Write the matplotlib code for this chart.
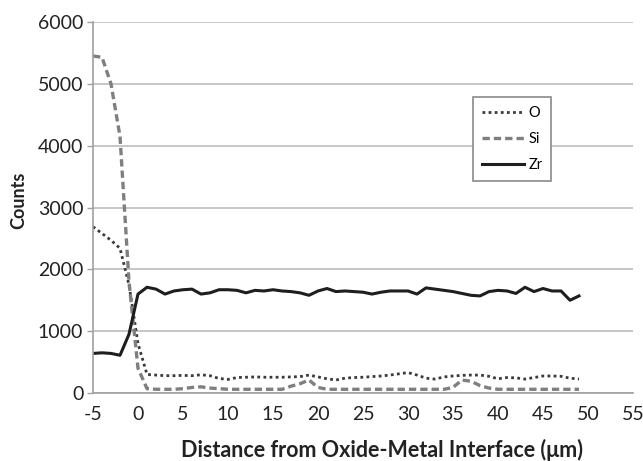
import numpy as np
import matplotlib
matplotlib.use('Agg')
import matplotlib.pyplot as plt

plt.rcParams['font.family'] = ['Lato', 'DejaVu Sans']
plt.rcParams['axes.unicode_minus'] = False

# distance from the oxide-metal interface, um
distance = list(range(-5, 50))

oxygen = [2690, 2580, 2470, 2340, 1750, 800, 300, 290, 280, 280,
          285, 280, 295, 280, 235, 220, 250, 255, 260, 255,
          255, 255, 260, 265, 290, 260, 230, 210, 240, 250,
          255, 265, 275, 290, 310, 330, 290, 240, 225, 260,
          275, 285, 290, 290, 270, 230, 250, 245, 225, 250,
          275, 275, 270, 240, 225]

silicon = [5450, 5430, 5000, 4150, 1800, 400, 70, 60, 60, 60,
           70, 90, 100, 80, 70, 60, 60, 60, 60, 60,
           60, 60, 110, 150, 210, 90, 60, 60, 60, 60,
           60, 60, 60, 60, 60, 60, 60, 60, 60, 60,
           90, 210, 190, 120, 80, 60, 60, 60, 60, 60,
           60, 60, 60, 60, 60]

zirconium = [640, 650, 640, 610, 950, 1600, 1710, 1680, 1600, 1650,
             1670, 1680, 1600, 1620, 1670, 1670, 1660, 1620, 1660, 1650,
             1670, 1650, 1640, 1620, 1580, 1650, 1690, 1640, 1650, 1640,
             1630, 1600, 1630, 1650, 1650, 1650, 1600, 1700, 1680, 1660,
             1640, 1610, 1580, 1570, 1640, 1660, 1650, 1610, 1710, 1640,
             1690, 1650, 1650, 1500, 1570]

x_ticks = list(range(-5, 60, 5))
y_ticks = list(range(0, 7000, 1000))

fig = plt.figure(figsize=(6.43, 4.61), dpi=100)
ax = fig.add_axes([93 / 643, 68 / 461, 540 / 643, 371 / 461])

ax.plot(distance, oxygen, linestyle=(0, (1, 1.2)), color='#3a3a3a', lw=2.0, label='O')
ax.plot(distance, silicon, linestyle=(0, (2.2, 1.2)), color='#7f7f7f', lw=2.4, label='Si')
ax.plot(distance, zirconium, linestyle='-', color='#1e1e1e', lw=2.2, label='Zr')

ax.set_xlim(-5, 55)
ax.set_ylim(0, 6000)
ax.set_xticks(x_ticks)
ax.set_yticks(y_ticks)
ax.tick_params(axis='both', labelsize=14, colors='#222222', length=4, width=1)
ax.tick_params(axis='x', length=0, pad=9)
ax.tick_params(axis='y', color='#a0a0a0', pad=3)
ax.yaxis.grid(True, color='#bcbcbc', lw=1.2)
ax.set_axisbelow(True)
for side in ['top', 'right']:
    ax.spines[side].set_visible(False)
for side in ['left', 'bottom']:
    ax.spines[side].set_color('#a0a0a0')
    ax.spines[side].set_linewidth(1.2)

ax.set_xlabel('Distance from Oxide-Metal Interface (\u03bcm)', fontsize=15.5,
              fontweight='bold', color='#222222')
ax.xaxis.set_label_coords(0.535, -0.125)
ax.set_ylabel('Counts', fontsize=13, fontweight='bold', color='#222222')
ax.yaxis.set_label_coords(-0.122, 0.52)

leg = ax.legend(loc='upper left', bbox_to_anchor=(0.7037, 0.798), fontsize=10.5,
                handlelength=2.9, handletextpad=0.3, labelspacing=0.85,
                borderpad=0.6, borderaxespad=0, fancybox=False, framealpha=1)
leg.get_frame().set_edgecolor('#8a8a8a')
leg.get_frame().set_linewidth(1.2)

fig.savefig('out.png', dpi=100)
